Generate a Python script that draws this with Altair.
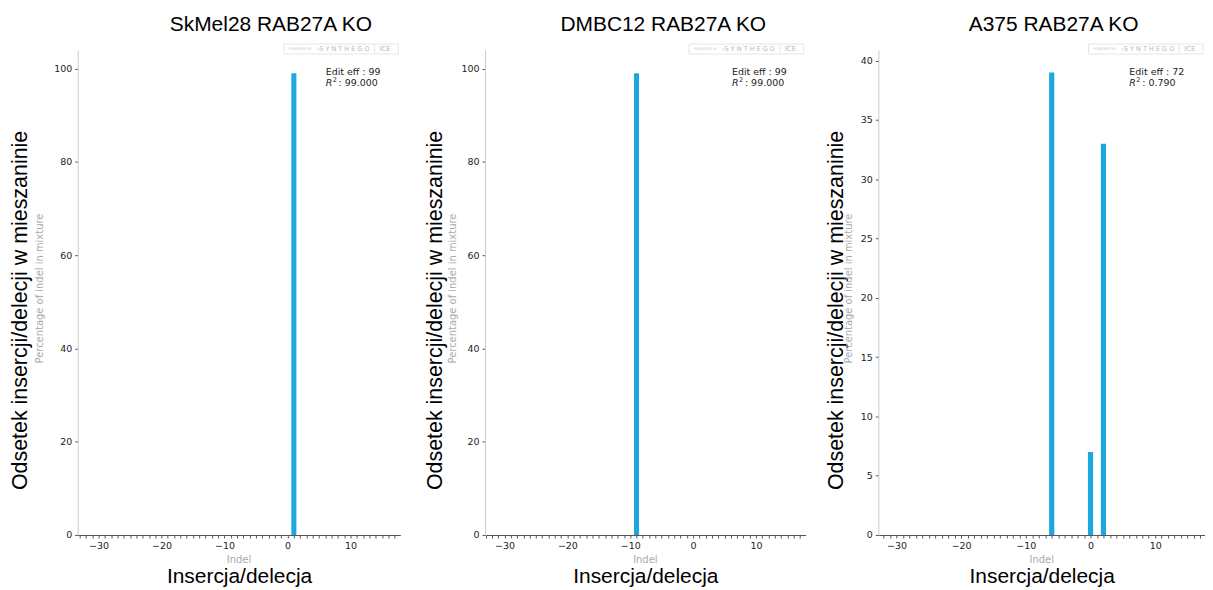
import altair as alt
import pandas as pd

# ---- data ----
titles = ["SkMel28 RAB27A KO", "DMBC12 RAB27A KO", "A375 RAB27A KO"]
skmel_indel = [1]
skmel_pct = [99]
dmbc_indel = [-9]
dmbc_pct = [99]
a375_indel = [-6, 0, 2]
a375_pct = [39, 7, 33]
edit_eff = [99, 99, 72]
r_squared = ["99.000", "99.000", "0.790"]
y_ticks_pct100 = [0, 20, 40, 60, 80, 100]
y_ticks_pct40 = [0, 5, 10, 15, 20, 25, 30, 35, 40]
x_minor_ticks = list(range(-33, 18))

BAR = "#1ea7dc"
H = 487
TITLE_FONT = "Liberation Sans"
TICK_FONT = "DejaVu Sans"
one = pd.DataFrame({"k": [0]})


def panel(i, indel, pct, ymax, yvals, width, xdom, title_dx, ytitle_x, ygrey_x, annot_x):
    df = pd.DataFrame({"indel": indel, "pct": pct})

    bars = (
        alt.Chart(df)
        .transform_calculate(x0="datum.indel - 0.4", x1="datum.indel + 0.4")
        .mark_bar(color=BAR)
        .encode(
            x=alt.X(
                "x0:Q",
                scale=alt.Scale(domain=xdom, nice=False, zero=False),
                axis=alt.Axis(
                    values=[v for v in x_minor_ticks if xdom[0] <= v <= xdom[1]],
                    labelExpr="datum.value % 10 === 0 ? format(datum.value, 'd') : ''",
                    grid=False,
                    tickSize=3,
                    tickColor="#555",
                    domainColor="#555",
                    labelFont=TICK_FONT,
                    labelFontSize=9.5,
                    labelColor="#222",
                    labelPadding=3,
                    title="Insercja/delecja",
                    titleFont=TITLE_FONT,
                    titleFontSize=21,
                    titleFontWeight="normal",
                    titleColor="black",
                    titleBaseline="alphabetic",
                    titleY=48,
                    titleX=width / 2,
                    titleAlign="center",
                ),
            ),
            x2="x1:Q",
            y=alt.Y(
                "pct:Q",
                scale=alt.Scale(domain=[0, ymax], nice=False),
                axis=alt.Axis(
                    values=yvals,
                    grid=False,
                    tickSize=3,
                    tickColor="#555",
                    domainColor="#cccccc",
                    labelFont=TICK_FONT,
                    labelFontSize=9.5,
                    labelColor="#222",
                    labelPadding=3,
                    title="Odsetek insercji/delecji w mieszaninie",
                    titleFont=TITLE_FONT,
                    titleFontSize=21.5,
                    titleFontWeight="normal",
                    titleColor="black",
                    titleAngle=270,
                    titleAlign="center",
                    titleBaseline="middle",
                    titleX=ytitle_x,
                    titleY=261,
                ),
            ),
            y2=alt.datum(0),
        )
    )

    grey_y = (
        alt.Chart(one)
        .mark_text(text="Percentage of indel in mixture", angle=270, font=TICK_FONT,
                   fontSize=10, color="#aaaaaa", baseline="middle", align="center")
        .encode(x=alt.value(ygrey_x), y=alt.value(H / 2 - 4))
    )
    grey_x = (
        alt.Chart(one)
        .mark_text(text="Indel", font=TICK_FONT, fontSize=10, color="#aaaaaa",
                   baseline="middle", align="center")
        .encode(x=alt.value(width / 2), y=alt.value(H + 25))
    )
    eff = (
        alt.Chart(one)
        .mark_text(text=f"Edit eff : {edit_eff[i]}", font=TICK_FONT, fontSize=9.5,
                   color="#222", align="left", baseline="alphabetic")
        .encode(x=alt.value(annot_x), y=alt.value(25))
    )
    r_lbl = (
        alt.Chart(one)
        .mark_text(text="R", font=TICK_FONT, fontSize=9.5, fontStyle="italic",
                   color="#222", align="left", baseline="alphabetic")
        .encode(x=alt.value(annot_x), y=alt.value(36))
    )
    r_sup = (
        alt.Chart(one)
        .mark_text(text="2", font=TICK_FONT, fontSize=6.5,
                   color="#222", align="left", baseline="alphabetic")
        .encode(x=alt.value(annot_x + 7), y=alt.value(32))
    )
    r_val = (
        alt.Chart(one)
        .mark_text(text=f": {r_squared[i]}", font=TICK_FONT, fontSize=9.5,
                   color="#222", align="left", baseline="alphabetic")
        .encode(x=alt.value(annot_x + 13), y=alt.value(36))
    )
    wm_box = (
        alt.Chart(one)
        .mark_rect(fill="white", stroke="#e6e6e6", strokeWidth=1)
        .encode(x=alt.value(width - 117), x2=alt.value(width - 2),
                y=alt.value(-6), y2=alt.value(4))
    )
    wm_sep = (
        alt.Chart(one)
        .mark_rule(color="#e6e6e6")
        .encode(x=alt.value(width - 26), y=alt.value(-6), y2=alt.value(4))
    )
    wm_pw = (
        alt.Chart(one)
        .mark_text(text="POWERED BY", font=TICK_FONT, fontSize=3.5, color="#c8c8c8",
                   align="left", baseline="middle")
        .encode(x=alt.value(width - 112), y=alt.value(-1))
    )
    wm_syn = (
        alt.Chart(one)
        .mark_text(text="›S Y N T H E G O", font=TICK_FONT, fontSize=6.5, color="#b8b8b8",
                   align="left", baseline="middle")
        .encode(x=alt.value(width - 84), y=alt.value(-1))
    )
    wm_ice = (
        alt.Chart(one)
        .mark_text(text="ICE", font=TICK_FONT, fontSize=7, color="#b8b8b8",
                   align="left", baseline="middle")
        .encode(x=alt.value(width - 21), y=alt.value(-1))
    )

    return alt.layer(
        wm_box, wm_sep, wm_pw, wm_syn, wm_ice, bars, grey_y, grey_x, eff, r_lbl, r_sup, r_val
    ).properties(
        width=width,
        height=H,
        view=alt.ViewBackground(stroke="transparent", strokeWidth=0),
        title=alt.TitleParams(
            text=titles[i], font=TITLE_FONT, fontSize=21, fontWeight="normal",
            color="black", anchor="middle", dx=title_dx, frame="group",
            baseline="alphabetic", offset=-8,
        ),
    )


def spacer(w):
    return (
        alt.Chart(one)
        .mark_point(opacity=0)
        .encode(x=alt.value(0), y=alt.value(0))
        .properties(width=w, height=H, view=alt.ViewBackground(stroke="transparent", strokeWidth=0))
    )


p1 = panel(0, skmel_indel, skmel_pct, 104.0, y_ticks_pct100, 324, [-33.3, 17.9], 32, -57, -38, 249)
p2 = panel(1, dmbc_indel, dmbc_pct, 104.0, y_ticks_pct100, 322, [-33.1, 17.9], 18, -50, -32, 248)
p3 = panel(2, a375_indel, a375_pct, 40.9, y_ticks_pct40, 328, [-32.8, 17.7], 12, -42, -29, 252)

chart = (
    alt.hconcat(p1, spacer(85), p2, spacer(73), p3, spacing=0, bounds="flush")
    .properties(padding={"left": 1, "top": 4, "right": 0, "bottom": 0})
    .configure_view(stroke="transparent", strokeWidth=0)
    .configure(background="white")
)

chart.save("out.html", embed_options={"renderer": "svg", "actions": False})
